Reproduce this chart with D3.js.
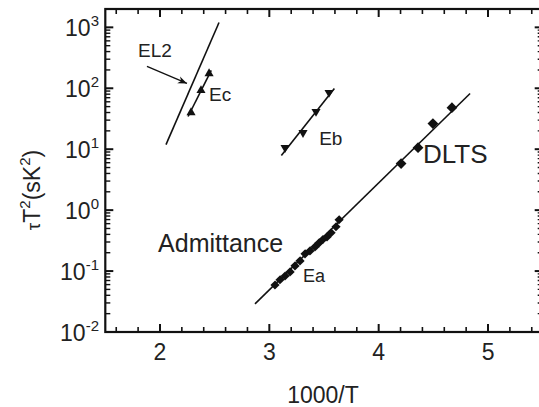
<!DOCTYPE html>
<html>
<head>
<meta charset="utf-8">
<script src="https://cdn.jsdelivr.net/npm/d3@7"></script>
<style>
html,body{margin:0;padding:0;background:#fff;}
svg{display:block;font-family:"Liberation Sans",Arial,sans-serif;}
</style>
</head>
<body>
<svg id="chart" width="539" height="407"></svg>
<script>
// ---- data (x = 1000/T, y = tau*T^2 in s K^2) ----
const admitX = [3.052,3.098,3.144,3.190,3.235,3.281,3.327,3.372,3.418,3.455,3.49,3.528,3.565,3.610,3.638];
const admitY = [0.059,0.072,0.083,0.097,0.122,0.147,0.192,0.215,0.25,0.291,0.33,0.365,0.425,0.533,0.695];
const dltsX = [4.205,4.36,4.496,4.67];
const dltsY = [5.8,10.6,26.4,48];
const ebX = [3.144,3.308,3.427,3.546];
const ebY = [10.6,18.7,41.5,85];
const ecX = [2.284,2.375,2.449];
const ecY = [40,92,174];
// fitted lines (endpoints)
const fitAX = [2.869,4.836], fitAY = [0.029,82];
const fitBX = [3.11,3.595],  fitBY = [7.85,99];
const fitCX = [2.257,2.469], fitCY = [34.4,196];
const el2X = [2.055,2.54],   el2Y = [11.9,1200];
// tick labels
const xTicks = [2,3,4,5];
const yTickExp = [-2,-1,0,1,2,3];
const xDomain = [1.5,5.5];
const yDomain = [0.01,2000];
// annotations
const labels = [
  {t:"EL2", x:1.80, y:321, fs:19},
  {t:"Ec", x:2.449, y:60.7, fs:19},
  {t:"Eb", x:3.456, y:11.9, fs:19},
  {t:"DLTS", x:4.405, y:6.0, fs:26},
  {t:"Admittance", x:1.983, y:0.207, fs:25},
  {t:"Ea", x:3.307, y:0.0664, fs:18}
];
const arrowX = [1.881,2.247], arrowY = [228,120];

// ---- layout ----
const svg = d3.select("#chart");
const L = 105.3, R = 542.7, T = 9, B = 332;
const x = d3.scaleLinear().domain(xDomain).range([L,R]);
const y = d3.scaleLog().domain(yDomain).range([B,T]);

const defs = svg.append("defs");
defs.append("marker").attr("id","ah").attr("viewBox","0 0 10 10").attr("refX",10).attr("refY",5)
  .attr("markerWidth",7).attr("markerHeight",7).attr("orient","auto")
  .append("path").attr("d","M0,1 L10,5 L0,9 L3,5 Z").attr("fill","#111");

// ticks
const minorX = d3.range(1.6,5.5,0.2).filter(v=>Math.abs(v-Math.round(v))>1e-6);
const minorY = [];
for (let e=-2;e<=3;e++) for (let m=2;m<=9;m++){const v=m*Math.pow(10,e); if(v<=yDomain[1]) minorY.push(v);}

const ax = svg.append("g").attr("stroke","#111");
function tick(x1,y1,x2,y2,w){ax.append("line").attr("x1",x1).attr("y1",y1).attr("x2",x2).attr("y2",y2).attr("stroke-width",w);}
xTicks.forEach(v=>{tick(x(v),B,x(v),B-8,2);tick(x(v),T,x(v),T+8,2);});
minorX.forEach(v=>{tick(x(v),B,x(v),B-5,1.6);tick(x(v),T,x(v),T+5,1.6);});
yTickExp.forEach(e=>{const v=Math.pow(10,e);tick(L,y(v),L+8,y(v),2);tick(R,y(v),R-8,y(v),2);});
minorY.forEach(v=>{tick(L,y(v),L+5,y(v),1.4);tick(R,y(v),R-5,y(v),1.4);});

// frame
svg.append("rect").attr("x",L).attr("y",T).attr("width",R-L).attr("height",B-T)
  .attr("fill","none").attr("stroke","#111").attr("stroke-width",2.2);

// tick labels
svg.append("g").selectAll("text").data(xTicks).join("text")
  .attr("x",d=>x(d)).attr("y",B+28).attr("text-anchor","middle")
  .attr("font-size",23).attr("fill","#222").text(d=>d);
const yl = svg.append("g").selectAll("text").data(yTickExp).join("text")
  .attr("x",99).attr("y",d=>y(Math.pow(10,d))+9).attr("text-anchor","end")
  .attr("font-size",23).attr("fill","#222");
yl.append("tspan").text("10");
yl.append("tspan").attr("dy",-10).attr("font-size",15).text(d=>d);

// axis titles
svg.append("text").attr("x",323).attr("y",403).attr("text-anchor","middle")
  .attr("font-size",23).attr("fill","#222").text("1000/T");
const yt = svg.append("text").attr("transform","translate(40,190) rotate(-90)")
  .attr("text-anchor","middle").attr("font-size",23).attr("fill","#222");
yt.append("tspan").attr("font-size",19).text("τ");
yt.append("tspan").text("T");
yt.append("tspan").attr("dy",-10).attr("font-size",15).text("2");
yt.append("tspan").attr("dy",10).text("(sK");
yt.append("tspan").attr("dy",-10).attr("font-size",15).text("2");
yt.append("tspan").attr("dy",10).text(")");

// lines
const line = d3.line().x(d=>x(d[0])).y(d=>y(d[1]));
[[fitAX,fitAY],[fitBX,fitBY],[fitCX,fitCY],[el2X,el2Y]].forEach(([xs,ys])=>{
  svg.append("path").attr("d",line(xs.map((v,i)=>[v,ys[i]])))
    .attr("fill","none").attr("stroke","#111").attr("stroke-width",1.6);
});

// arrow
svg.append("path").attr("d",line(arrowX.map((v,i)=>[v,arrowY[i]])))
  .attr("fill","none").attr("stroke","#111").attr("stroke-width",1.3).attr("marker-end","url(#ah)");

// markers
function pts(xs,ys,type,size,rot){
  svg.append("g").selectAll("path").data(xs.map((v,i)=>[v,ys[i]])).join("path")
    .attr("d",d3.symbol().type(type).size(size))
    .attr("transform",d=>`translate(${x(d[0])},${y(d[1])}) rotate(${rot})`)
    .attr("fill","#111");
}
pts(admitX,admitY,d3.symbolSquare,42,-44);
pts(dltsX,dltsY,d3.symbolSquare,58,45);
pts(ebX,ebY,d3.symbolTriangle,36,180);
pts(ecX,ecY,d3.symbolTriangle,36,0);

// annotations
svg.append("g").selectAll("text").data(labels).join("text")
  .attr("x",d=>x(d.x)).attr("y",d=>y(d.y)).attr("font-size",d=>d.fs)
  .attr("fill","#222").text(d=>d.t);
</script>
</body>
</html>
